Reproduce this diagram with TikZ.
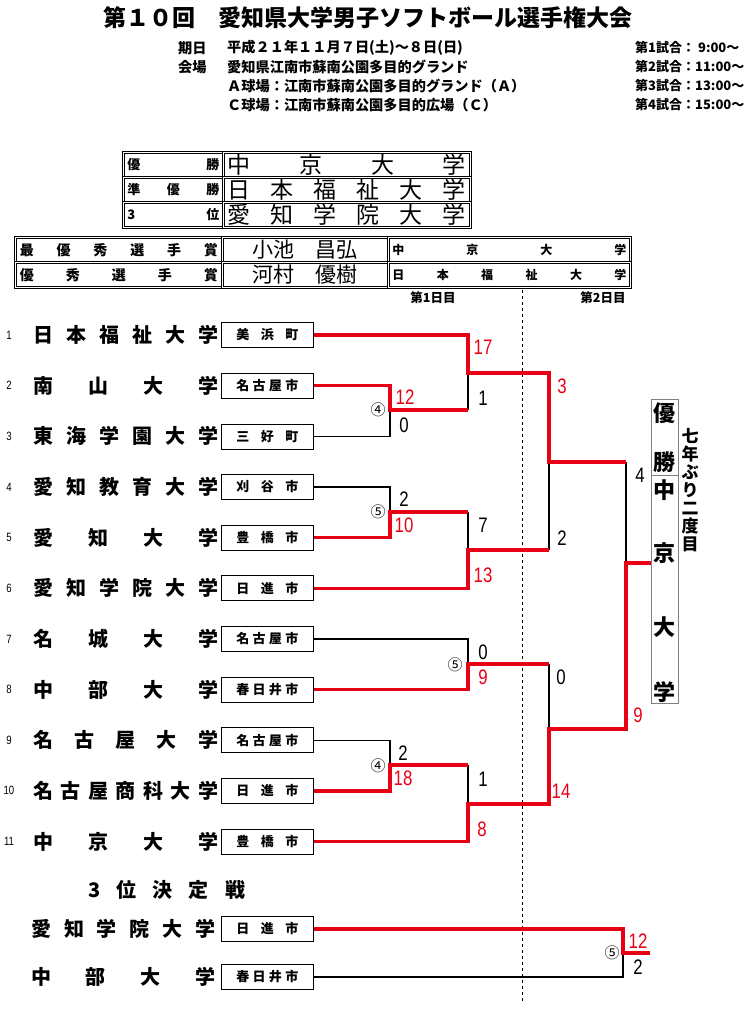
\documentclass[tikz,border=0pt]{standalone}
\usepackage{fontspec}
\setmainfont{Noto Sans CJK JP}
\newfontfamily\numfont[FakeStretch=0.8]{Liberation Sans}
\usetikzlibrary{positioning}
\definecolor{winred}{RGB}{232,0,20}
\def\sprd#1{\sprdA#1\sprdend}
\def\sprdA#1#2{#1\ifx\sprdend#2\else\hfill\expandafter\sprdA\fi#2}
\def\sprdend{}
\newcommand{\fs}[1]{\fontsize{#1}{#1}\selectfont}

\begin{document}
\begin{tikzpicture}[x=1pt,y=-1pt,
	cell/.style={draw,double,double distance=1.2pt,line width=.8pt,anchor=north west,minimum height=25pt,inner sep=0pt},
	city/.style={draw,line width=.6pt,minimum width=92pt,minimum height=25pt,inner sep=0pt,anchor=west,font=\fs{13}\bfseries},
	team/.style={anchor=west,inner sep=0pt,font=\fs{20}\bfseries},
	num/.style={font=\numfont\fs{12}},
	score/.style={font=\numfont\fs{21}},
	info/.style={anchor=west,inner sep=0pt,font=\fs{14.2}\bfseries},
	win/.style={draw=winred,line width=3.5pt},
	lose/.style={draw=black,line width=1.2pt}]
	\useasboundingbox (0,0) rectangle (750,1015);
	% header
	\node[font=\fs{23}\bfseries] (title) at (368,18) {第１０回　愛知県大学男子ソフトボール選手権大会};
	\node[info] (l1) at (178,48) {期日};
	\node[info] (l2) at (178,67) {会場};
	\node[info] (i1) at (227,48) {平成２１年１１月７日(土)～８日(日)};
	\node[info] (i2) at (227,67) {愛知県江南市蘇南公園多目的グランド};
	\node[info] (i3) at (227,86) {Ａ球場：江南市蘇南公園多目的グランド（Ａ）};
	\node[info] (i4) at (227,105) {Ｃ球場：江南市蘇南公園多目的広場（Ｃ）};
	\foreach \k/\tm in {1/ 9:00,2/11:00,3/13:00,4/15:00}
		\node[info,font=\fs{13}\bfseries] (g\k) at (635,29+19*\k) {第\k 試合：\tm～};
	% results table
	\node[cell,minimum width=100pt] (r1) at (123,152) {\makebox[92pt]{\fs{13}\bfseries\sprd{優勝}}};
	\node[cell,minimum width=247pt] (w1) at (223,152) {\makebox[238pt]{\fs{23}\sprd{中京大学}}};
	\node[cell,minimum width=100pt] (r2) at (123,177) {\makebox[92pt]{\fs{13}\bfseries\sprd{準優勝}}};
	\node[cell,minimum width=247pt] (w2) at (223,177) {\makebox[238pt]{\fs{23}\sprd{日本福祉大学}}};
	\node[cell,minimum width=100pt] (r3) at (123,202) {\makebox[92pt]{\fs{13}\bfseries\sprd{3位}}};
	\node[cell,minimum width=247pt] (w3) at (223,202) {\makebox[238pt]{\fs{23}\sprd{愛知学院大学}}};
	\node[cell,minimum width=207pt] (p1) at (15,237) {\makebox[198pt]{\fs{14}\bfseries\sprd{最優秀選手賞}}};
	\node[cell,minimum width=166pt] (q1) at (222,237) {\fs{21}小池　昌弘};
	\node[cell,minimum width=242pt] (u1) at (388,237) {\makebox[234pt]{\fs{12}\bfseries\sprd{中京大学}}};
	\node[cell,minimum width=207pt] (p2) at (15,262) {\makebox[198pt]{\fs{14}\bfseries\sprd{優秀選手賞}}};
	\node[cell,minimum width=166pt] (q2) at (222,262) {\fs{21}河村　優樹};
	\node[cell,minimum width=242pt] (u2) at (388,262) {\makebox[234pt]{\fs{12}\bfseries\sprd{日本福祉大学}}};
	\node[font=\fs{12.5}\bfseries] (day1) at (433,298) {第1日目};
	\node[font=\fs{12.5}\bfseries] (day2) at (603,298) {第2日目};
	\coordinate (d1) at (522,290);
	\coordinate (d2) at (522,1003);
	\draw[dashed,line width=.7pt] (d1) -- (d2);
	% teams
	\foreach \i/\nm/\ct in {1/日本福祉大学/美浜町,2/南山大学/名古屋市,3/東海学園大学/三好町,4/愛知教育大学/刈谷市,
		5/愛知大学/豊橋市,6/愛知学院大学/日進市,7/名城大学/名古屋市,8/中部大学/春日井市,
		9/名古屋大学/名古屋市,10/名古屋商科大学/日進市,11/中京大学/豊橋市}{
		\pgfmathsetmacro\yy{335+50.65*(\i-1)}
		\node[num] (n\i) at (9,\yy) {\i};
		\node[team] (t\i) at (33,\yy) {\makebox[185pt]{\expandafter\sprd\expandafter{\nm}}};
		\node[city] (c\i) at (221,\yy) {\makebox[62pt]{\expandafter\sprd\expandafter{\ct}}};
	}
	% champion
	\node[draw=gray,line width=.6pt,minimum width=27pt,minimum height=304pt,inner sep=0pt,anchor=north west] (champ) at (651,399) {};
	\coordinate (dv) at (664,475);
	\draw[gray,line width=.6pt] (dv -| champ.west) -- (dv -| champ.east);
	\foreach \ch/\cy in {優/413,勝/462,中/490,京/553,大/627,学/692}
		\node[font=\fs{22}\bfseries] (ch\cy) at (664.5,\cy) {\ch};
	\node[font=\fs{17}\bfseries,align=center,anchor=north,inner sep=0pt] (note) at (690,428) {七\\[1pt]年\\[1pt]ぶ\\[1pt]り\\[1pt]二\\[1pt]度\\[1pt]目};
	% junctions
	\coordinate (j23) at (390,410);
	\coordinate (j45) at (390,512);
	\coordinate (j910) at (390,765);
	\coordinate (k1) at (468,373);
	\coordinate (k6) at (468,550);
	\coordinate (k78) at (468,664);
	\coordinate (k11) at (468,804);
	\coordinate (s1) at (549,462);
	\coordinate (s2) at (549,729);
	\coordinate (f) at (626,563);
	% losers
	\draw[lose] (c3.east) -| (j23);
	\draw[lose] (c4.east) -| (j45);
	\draw[lose] (c7.east) -| (k78);
	\draw[lose] (c9.east) -| (j910);
	\draw[lose] (j23 -| k1) -- (k1);
	\draw[lose] (j45 -| k6) -- (k6);
	\draw[lose] (j910 -| k11) -- (k11);
	\draw[lose] (k6 -| s1) -- (s1);
	\draw[lose] (k78 -| s2) -- (s2);
	\draw[lose] (s1 -| f) -- (f);
	% winners
	\draw[win] (c2.east) -| (j23) -- (j23 -| k1);
	\draw[win] (c5.east) -| (j45) -- (j45 -| k6);
	\draw[win] (c10.east) -| (j910) -- (j910 -| k11);
	\draw[win] (c1.east) -| (k1) -- (k1 -| s1) -- (s1) -- (s1 -| f);
	\draw[win] (c6.east) -| (k6) -- (k6 -| s1);
	\draw[win] (c8.east) -| (k78) -- (k78 -| s2);
	\draw[win] (c11.east) -| (k11) -- (k11 -| s2) -- (s2) -- (s2 -| f) -- (f) -- (f -| champ.west);
	% third place
	\node[team,font=\fs{20}\bfseries] (t3rd) at (88,890) {\makebox[157pt]{\sprd{3位決定戦}}};
	\node[team] (t12) at (31,929) {\makebox[184pt]{\sprd{愛知学院大学}}};
	\node[city] (c12) at (221,929) {\makebox[62pt]{\sprd{日進市}}};
	\node[team] (t13) at (31,977) {\makebox[184pt]{\sprd{中部大学}}};
	\node[city] (c13) at (221,977) {\makebox[62pt]{\sprd{春日井市}}};
	\coordinate (q) at (623,953);
	\draw[lose] (c13.east) -| (q);
	\draw[win] (c12.east) -| (q) -- ++(27,0);
	% scores
	\foreach \sx/\sy/\sc/\st [count=\m] in {483/347/winred/17,483/398/black/1,405/397/winred/12,404/425/black/0,
		404/499/black/2,404/525/winred/10,483/525/black/7,483/575/winred/13,562/386/winred/3,562/538/black/2,
		640/475/black/4,483/652/black/0,483/677/winred/9,561/677/black/0,638/715/winred/9,403/753/black/2,
		403/778/winred/18,483/779/black/1,561/791/winred/14,482/829/winred/8,638/941/winred/12,638/967/black/2}
		\node[score,text=\sc] (sc\m) at (\sx,\sy) {\st};
	\foreach \ox/\oy/\ot [count=\m] in {378/410/④,378/512/⑤,455/665/⑤,378/766/④,612/953/⑤}
		\node[font=\fs{15}] (o\m) at (\ox,\oy) {\ot};
\end{tikzpicture}
\end{document}
